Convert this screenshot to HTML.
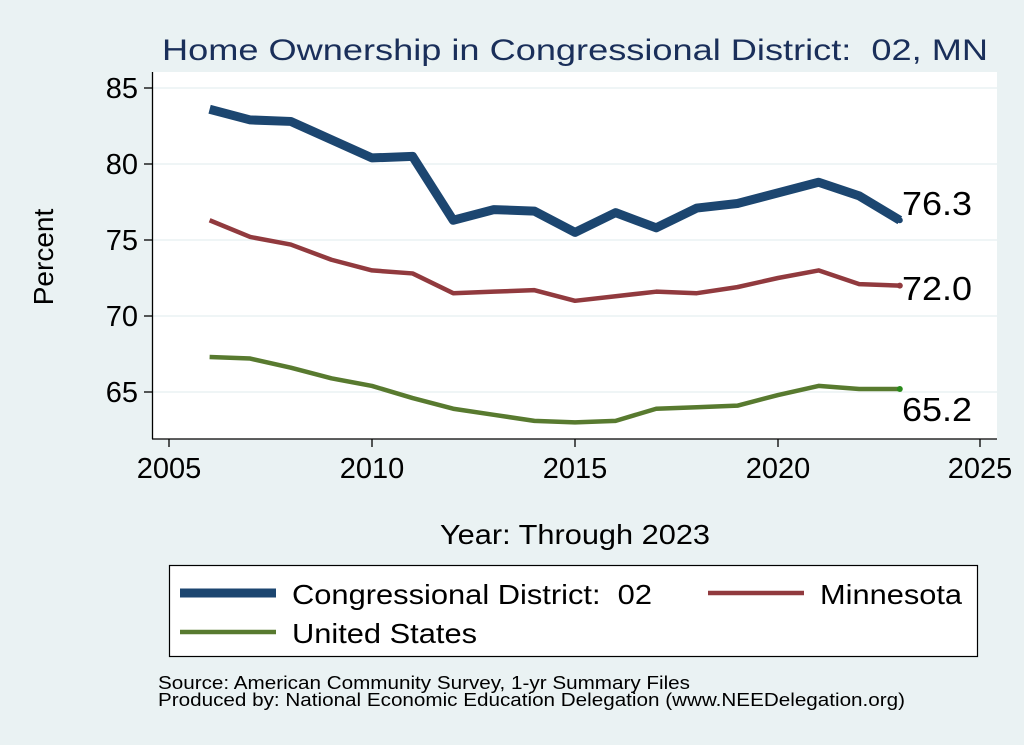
<!DOCTYPE html>
<html><head><meta charset="utf-8"><style>
body{margin:0;background:#eaf2f3;}
svg{display:block;font-family:"Liberation Sans",sans-serif;}
text{white-space:pre;}
</style></head><body>
<svg width="1024" height="745" viewBox="0 0 1024 745">
<rect width="1024" height="745" fill="#eaf2f3"/>
<text x="162" y="60" font-size="30" fill="#1a2f5a" textLength="826" lengthAdjust="spacingAndGlyphs">Home Ownership in Congressional District:  02, MN</text>
<rect x="152" y="72" width="845" height="367" fill="#fff"/>
<g stroke="#eaf2f3" stroke-width="1.5">
<line x1="152" x2="997" y1="88" y2="88"/><line x1="152" x2="997" y1="164" y2="164"/>
<line x1="152" x2="997" y1="240" y2="240"/><line x1="152" x2="997" y1="316" y2="316"/>
<line x1="152" x2="997" y1="392" y2="392"/></g>
<g stroke="#000" stroke-width="1.3">
<line x1="152.5" y1="72" x2="152.5" y2="439"/><line x1="152" y1="439" x2="997" y2="439"/>
<line x1="144" x2="152" y1="88" y2="88"/><line x1="144" x2="152" y1="164" y2="164"/><line x1="144" x2="152" y1="240" y2="240"/><line x1="144" x2="152" y1="316" y2="316"/><line x1="144" x2="152" y1="392" y2="392"/>
<line x1="169" x2="169" y1="439" y2="447"/><line x1="372" x2="372" y1="439" y2="447"/><line x1="575" x2="575" y1="439" y2="447"/><line x1="778" x2="778" y1="439" y2="447"/><line x1="980" x2="980" y1="439" y2="447"/>
</g>
<g font-size="29" fill="#000" text-anchor="end">
<text x="138" y="98">85</text><text x="138" y="174">80</text><text x="138" y="250">75</text><text x="138" y="326">70</text><text x="138" y="402">65</text></g>
<g font-size="29" fill="#000" text-anchor="middle">
<text x="169" y="478">2005</text><text x="372" y="478">2010</text><text x="575" y="478">2015</text><text x="778" y="478">2020</text><text x="980" y="478">2025</text></g>
<text transform="translate(53,257) rotate(-90)" font-size="28" text-anchor="middle">Percent</text>
<text x="440" y="544" font-size="28" textLength="270" lengthAdjust="spacingAndGlyphs">Year: Through 2023</text>
<g fill="none" stroke-linejoin="round" transform="translate(169,88) scale(40.6,15.2)">
<polyline vector-effect="non-scaling-stroke" stroke="#1c4670" stroke-width="9" points="1,1.4 2,2.1 3,2.2 4,3.4 5,4.6 6,4.5 7,8.7 8,8 9,8.1 10,9.5 11,8.2 12,9.2 13,7.9 14,7.6 15,6.9 16,6.2 17,7.1 18,8.7"/>
<polyline vector-effect="non-scaling-stroke" stroke="#913a3e" stroke-width="4.5" points="1,8.7 2,9.8 3,10.3 4,11.3 5,12 6,12.2 7,13.5 8,13.4 9,13.3 10,14 11,13.7 12,13.4 13,13.5 14,13.1 15,12.5 16,12 17,12.9 18,13"/>
<polyline vector-effect="non-scaling-stroke" stroke="#587a2f" stroke-width="4.5" points="1,17.7 2,17.8 3,18.4 4,19.1 5,19.6 6,20.4 7,21.1 8,21.5 9,21.9 10,22 11,21.9 12,21.1 13,21 14,20.9 15,20.2 16,19.6 17,19.8 18,19.8"/>
</g>
<circle cx="899.8" cy="220.2" r="3" fill="#1c4670"/><circle cx="899.8" cy="285.6" r="3" fill="#913a3e"/><circle cx="899.8" cy="389" r="3" fill="#2a8a1a"/>
<g font-size="33" fill="#000"><text x="902" y="215" textLength="70" lengthAdjust="spacingAndGlyphs">76.3</text><text x="902" y="300" textLength="70" lengthAdjust="spacingAndGlyphs">72.0</text><text x="902" y="421" textLength="70" lengthAdjust="spacingAndGlyphs">65.2</text></g>
<rect x="169.5" y="565.5" width="808" height="91" fill="#fff" stroke="#000" stroke-width="1.2"/>
<line x1="180" x2="276" y1="593" y2="593" stroke="#1c4670" stroke-width="9"/>
<line x1="180" x2="276" y1="632" y2="632" stroke="#587a2f" stroke-width="4.5"/>
<line x1="708" x2="804" y1="593" y2="593" stroke="#913a3e" stroke-width="4.5"/>
<g font-size="28" fill="#000"><text x="292" y="604" textLength="360" lengthAdjust="spacingAndGlyphs">Congressional District:  02</text><text x="292" y="643" textLength="185" lengthAdjust="spacingAndGlyphs">United States</text><text x="820" y="604" textLength="142" lengthAdjust="spacingAndGlyphs">Minnesota</text></g>
<g font-size="18" fill="#000"><text x="158" y="689" textLength="532" lengthAdjust="spacingAndGlyphs">Source: American Community Survey, 1-yr Summary Files</text><text x="158" y="706" textLength="747" lengthAdjust="spacingAndGlyphs">Produced by: National Economic Education Delegation (www.NEEDelegation.org)</text></g>
</svg>
</body></html>
